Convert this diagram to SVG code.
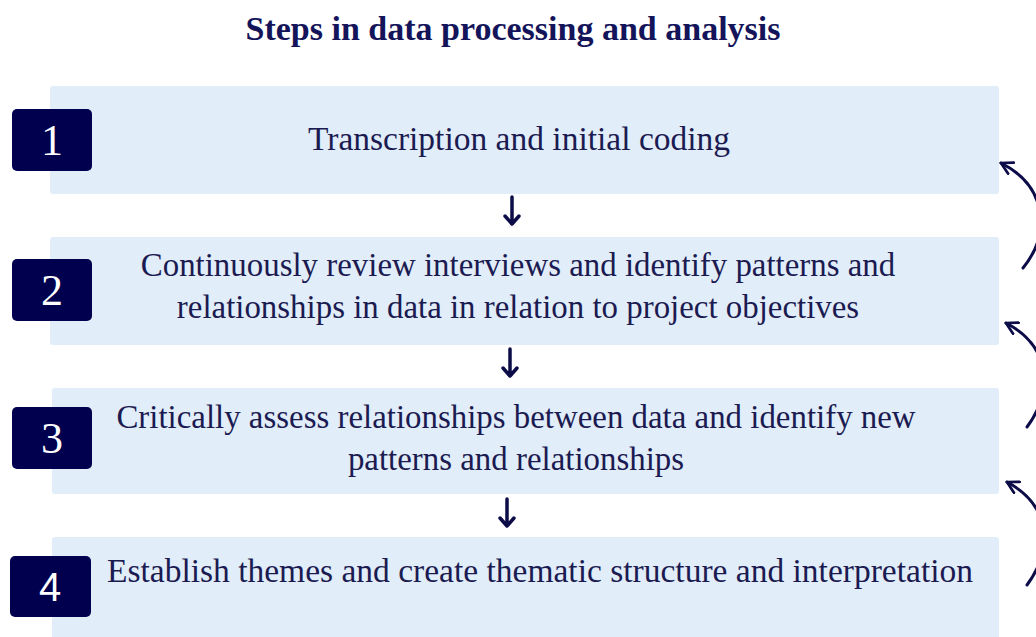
<svg xmlns="http://www.w3.org/2000/svg" width="1036" height="637" viewBox="0 0 1036 637">
  <style>
    .panel { fill: #e1edf8; }
    .badge { fill: #00004f; }
    .num { fill: #ffffff; font-family: "Liberation Serif", "Times New Roman", serif; font-size: 44px; text-anchor: middle; }
    .num-sans { font-family: "Liberation Sans", Arial, sans-serif; font-size: 40px; }
    .label { fill: #1b1b52; font-family: "Liberation Serif", "Times New Roman", serif; font-size: 33.5px; text-anchor: middle; }
    .label.tight { font-size: 32.9px; }
    .title { fill: #14145a; font-family: "Liberation Serif", "Times New Roman", serif; font-size: 34px; font-weight: bold; text-anchor: middle; }
    .flow { stroke: #0c0c48; stroke-width: 3.5; fill: none; stroke-linecap: round; stroke-linejoin: round; }
    .loop { stroke: #0c0c48; stroke-width: 3; fill: none; stroke-linecap: round; }
  </style>
  <defs>
    <marker id="chev" viewBox="0 0 12 12" refX="10" refY="6" markerWidth="5" markerHeight="5" orient="auto-start-reverse" markerUnits="strokeWidth">
      <path d="M1,1 L10,6 L1,11" fill="none" stroke="#0c0c48" stroke-width="2.2" stroke-linecap="round" stroke-linejoin="round"/>
    </marker>
  </defs>

  <rect width="1036" height="637" fill="#ffffff"/>

  <text class="title" x="513" y="40">Steps in data processing and analysis</text>

  <g id="step1">
    <rect class="panel" x="50" y="86" width="949" height="108" rx="3"/>
    <rect class="badge" x="12" y="109" width="80" height="62" rx="5"/>
    <text class="num" x="52" y="155">1</text>
    <text class="label" x="519" y="150">Transcription and initial coding</text>
  </g>

  <g id="step2">
    <rect class="panel" x="50" y="237" width="949" height="108" rx="3"/>
    <rect class="badge" x="12" y="259" width="80" height="62" rx="5"/>
    <text class="num" x="52" y="305">2</text>
    <text class="label tight" x="518" y="276">Continuously review interviews and identify patterns and</text>
    <text class="label tight" x="518" y="318">relationships in data in relation to project objectives</text>
  </g>

  <g id="step3">
    <rect class="panel" x="52" y="388" width="947" height="106" rx="3"/>
    <rect class="badge" x="12" y="407" width="80" height="62" rx="5"/>
    <text class="num" x="52" y="453">3</text>
    <text class="label tight" x="516" y="428">Critically assess relationships between data and identify new</text>
    <text class="label tight" x="516" y="470">patterns and relationships</text>
  </g>

  <g id="step4">
    <rect class="panel" x="52" y="537" width="947" height="110" rx="3"/>
    <rect class="badge" x="10" y="556" width="81" height="61" rx="5"/>
    <text class="num num-sans" x="50" y="601">4</text>
    <text class="label" x="540" y="582">Establish themes and create thematic structure and interpretation</text>
  </g>

  <g id="connectors">
    <!-- downward flow arrows -->
    <path class="flow" d="M512,197 V224 M505,216 L512,224 L519,216"/>
    <path class="flow" d="M510,349 V376 M503,368 L510,376 L517,368"/>
    <path class="flow" d="M507,499 V526 M500,518 L507,526 L514,518"/>
    <!-- feedback loops on the right -->
    <path class="loop" marker-end="url(#chev)" d="M1023,268 C1052,232 1046,186 1001,163"/>
    <path class="loop" marker-end="url(#chev)" d="M1027,427 C1054,390 1050,346 1006,323"/>
    <path class="loop" marker-end="url(#chev)" d="M1027,585 C1054,548 1050,505 1007,482"/>
  </g>
</svg>
